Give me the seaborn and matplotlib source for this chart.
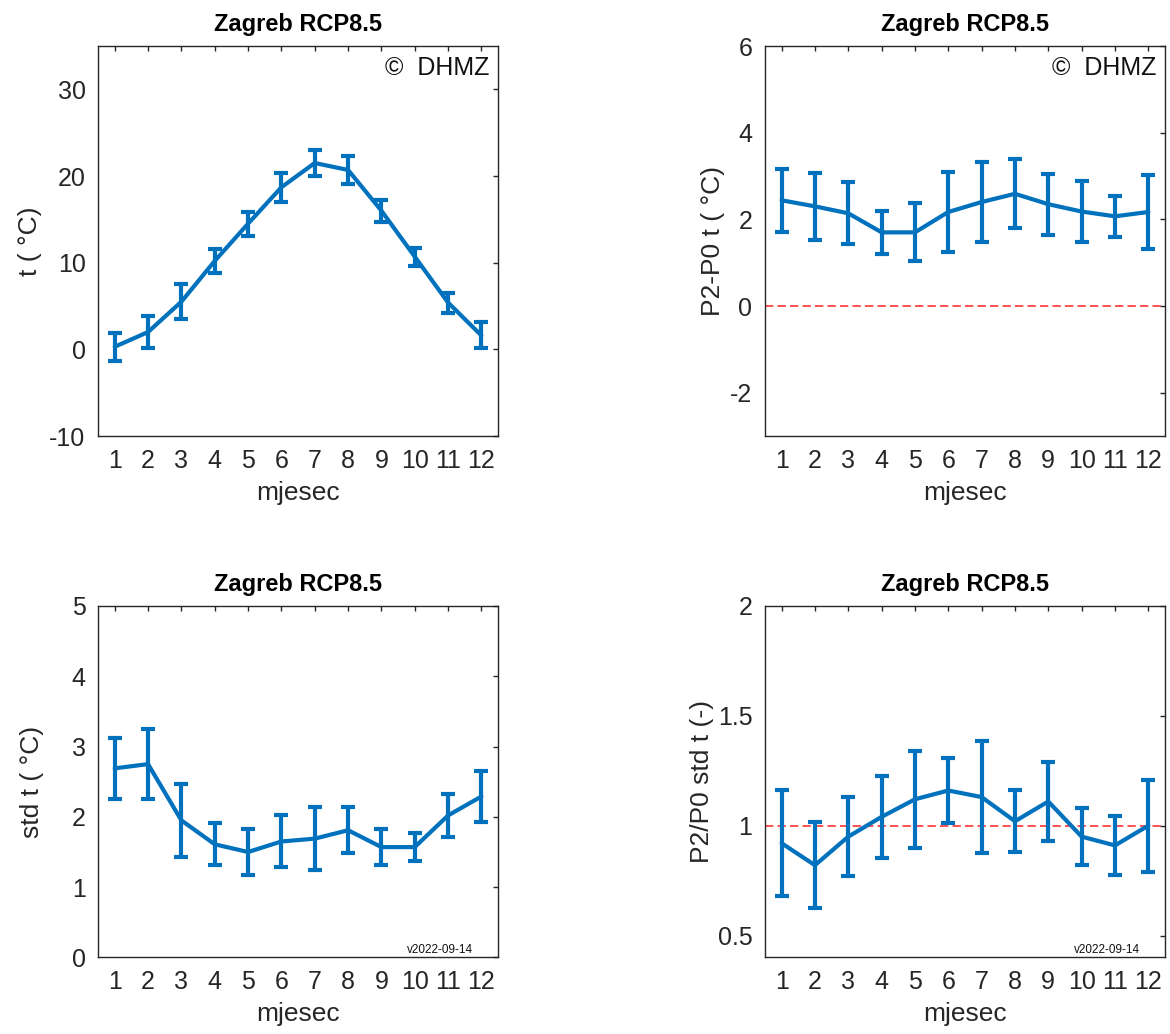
import matplotlib
matplotlib.use("Agg")
import matplotlib.pyplot as plt
import numpy as np
import pandas as pd
import seaborn as sns

# ------------------------------------------------------------------------------------------------------------------- #
# data

months = list(range(1, 13))

# mean temperature and spread
t_mean = [0.3, 2.0, 5.5, 10.2, 14.5, 18.7, 21.5, 20.7, 16.0, 10.7, 5.4, 1.6]
t_err = [1.6, 1.9, 2.0, 1.4, 1.4, 1.7, 1.45, 1.6, 1.25, 1.05, 1.15, 1.5]

# P2-P0 change of temperature
dt_mean = [2.44, 2.30, 2.14, 1.70, 1.70, 2.17, 2.40, 2.59, 2.35, 2.18, 2.07, 2.17]
dt_err = [0.73, 0.78, 0.72, 0.50, 0.67, 0.92, 0.92, 0.80, 0.70, 0.70, 0.48, 0.86]

# std of temperature
std_mean = [2.69, 2.75, 1.95, 1.61, 1.50, 1.65, 1.69, 1.81, 1.57, 1.57, 2.02, 2.29]
std_err = [0.43, 0.50, 0.52, 0.30, 0.33, 0.37, 0.45, 0.33, 0.26, 0.20, 0.31, 0.36]

# P2/P0 ratio of std
rstd_mean = [0.92, 0.82, 0.95, 1.04, 1.12, 1.16, 1.13, 1.02, 1.11, 0.95, 0.91, 1.00]
rstd_err = [0.24, 0.195, 0.18, 0.185, 0.22, 0.15, 0.255, 0.14, 0.18, 0.13, 0.135, 0.21]

title = "Zagreb RCP8.5"
xlabel = "mjesec"

# ------------------------------------------------------------------------------------------------------------------- #

sns.set_style("white")
plt.rcParams['font.family'] = ['Liberation Sans', 'DejaVu Sans']
plt.rcParams['axes.unicode_minus'] = False

BLUE = "#0072BD"
GREY = "#262626"

fig = plt.figure(figsize=(11.7, 10.34), dpi=100)

# [left, bottom, width, height] in figure fractions
positions = [
    [0.0838, 0.5783, 0.3419, 0.3772],
    [0.6538, 0.5783, 0.3419, 0.3772],
    [0.0838, 0.0740, 0.3419, 0.3400],
    [0.6538, 0.0740, 0.3419, 0.3400],
]

panels = [
    dict(mean=t_mean, err=t_err, ylabel="t ( °C)", ylim=(-10, 35),
         yticks=[-10, 0, 10, 20, 30], ref=None, note="dhmz", labx=-0.14),
    dict(mean=dt_mean, err=dt_err, ylabel="P2-P0 t ( °C)", ylim=(-3, 6),
         yticks=[-2, 0, 2, 4, 6], ref=0, note="dhmz", labx=-0.10),
    dict(mean=std_mean, err=std_err, ylabel="std t ( °C)", ylim=(0, 5),
         yticks=[0, 1, 2, 3, 4, 5], ref=None, note="ver", labx=-0.135),
    dict(mean=rstd_mean, err=rstd_err, ylabel="P2/P0 std t (-)", ylim=(0.4, 2),
         yticks=[0.5, 1, 1.5, 2], ref=1, note="ver", labx=-0.127),
]


def draw_panel(ax, p):
    df = pd.DataFrame({"mjesec": months, "val": p["mean"], "err": p["err"]})
    if p["ref"] is not None:
        ax.axhline(p["ref"], color="#ff3333", lw=1.2, ls=(0, (5, 2.5)), zorder=1)
    sns.lineplot(data=df, x="mjesec", y="val", ax=ax, color=BLUE, lw=3, zorder=3)
    ax.errorbar(df["mjesec"], df["val"], yerr=df["err"], fmt="none",
                ecolor=BLUE, elinewidth=3, capsize=5, capthick=3, zorder=3)

    ax.set_xlim(0.5, 12.5)
    ax.set_ylim(*p["ylim"])
    ax.set_xticks(months)
    ax.set_yticks(p["yticks"])
    ax.set_yticklabels(["%g" % v for v in p["yticks"]])
    ax.tick_params(direction="in", top=True, right=True, length=3.5, width=1,
                   labelsize=18, colors=GREY, pad=9)
    for s in ax.spines.values():
        s.set_color(GREY)
        s.set_linewidth(1)

    ax.set_title(title, fontsize=17, fontweight="bold", pad=11, color="black")
    ax.set_xlabel(xlabel, fontsize=19, color=GREY, labelpad=6)
    ax.set_ylabel(p["ylabel"], fontsize=19, color=GREY)
    ax.yaxis.set_label_coords(p["labx"], 0.5)

    if p["note"] == "dhmz":
        ax.text(0.978, 0.926, "©  DHMZ", transform=ax.transAxes, ha="right",
                va="baseline", fontsize=18, color="#111111")
    else:
        ax.text(0.9375, 0.013, "v2022-09-14", transform=ax.transAxes, ha="right",
                va="baseline", fontsize=8.5, color="#111111")


for pos, p in zip(positions, panels):
    ax = fig.add_axes(pos)
    draw_panel(ax, p)

fig.savefig("out.png", dpi=100)
